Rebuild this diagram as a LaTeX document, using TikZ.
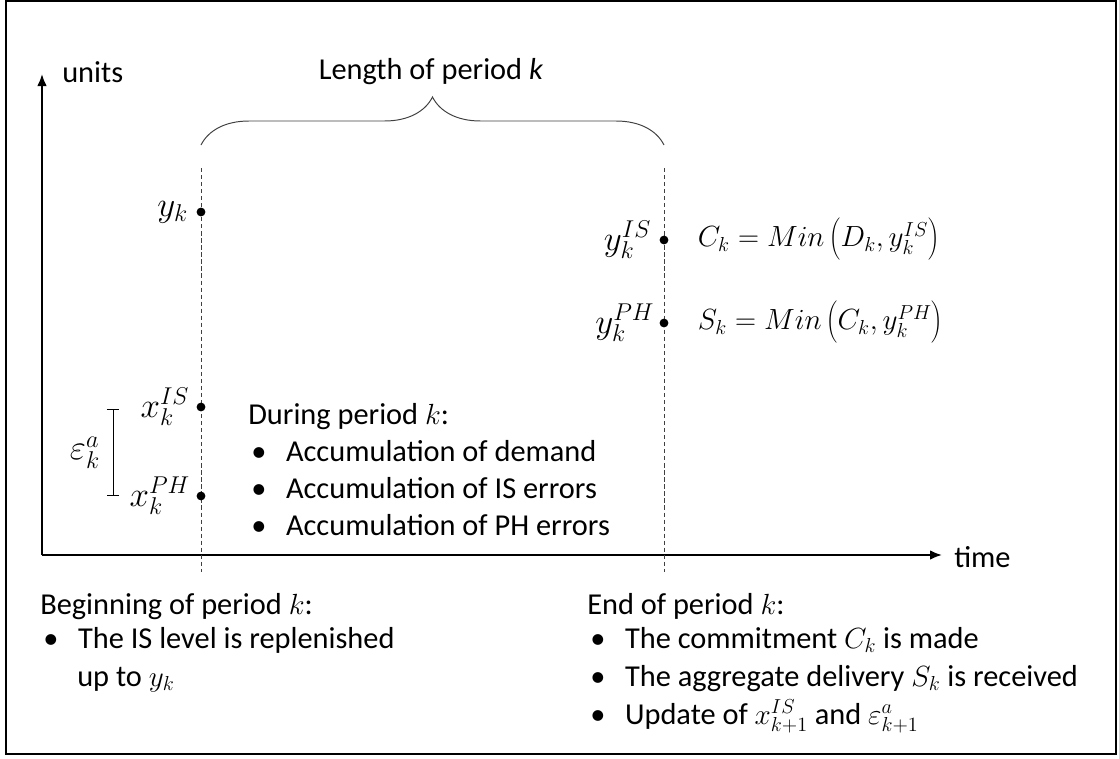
\documentclass[tikz,border=0pt]{standalone}
\usepackage{fontspec}
\setmainfont{Carlito}
\usetikzlibrary{arrows.meta,decorations.pathreplacing,positioning}
\newcommand{\bul}{\makebox[0.87cm][l]{\textbullet}}
\newcommand{\tallpar}[1]{\left(\rule[-0.5em]{0pt}{1.45em}#1\right)}

\begin{document}
\begin{tikzpicture}[x=0.025cm,y=-0.025cm,
    every node/.style={font=\fontsize{21.6}{27}\selectfont,inner sep=0},
    txt/.style={anchor=base west},
    mth/.style={font=\fontsize{23.5}{28}\selectfont},
    eqn/.style={font=\fontsize{21}{26}\selectfont},
    dot/.style={circle,fill,inner sep=0,minimum size=0.22cm},
    guide/.style={densely dashed,line width=0.6pt,black!75},
    axis/.style={line width=1.3pt,-{Latex[length=0.3cm,width=0.24cm]}}]
  \useasboundingbox (0,0) rectangle (1119,758);
  \draw[line width=1.5pt] (6,1) rectangle (1116,754);

  \coordinate (o) at (42,555);
  \coordinate (ytip) at (42,74);
  \coordinate (xtip) at (942,555);
  \draw[axis] (o) -- (ytip);
  \draw[axis] (o) -- (xtip);
  \node[anchor=west] (units) at (62,72) {units};
  \node[anchor=west] (time) at (954,557) {time};

  \foreach \nm/\px in {b/201, e/664}{%
    \coordinate (\nm top) at (\px,168);
    \coordinate (\nm bot) at (\px,572);
    \draw[guide] (\nm top) -- (\nm bot);}

  \coordinate (br0) at (201,145);
  \coordinate (br1) at (664,145);
  \draw[decorate,decoration={brace,amplitude=1.2cm},line width=0.7pt,black!75] (br0) -- (br1);
  \node (lenlbl) at (431,72) {Length of period \textit{k}};

  \foreach \nm/\px/\py in {yk/201/212, xis/201/407, xph/201/496, yis/664/240, yph/664/323}
    \node[dot] (\nm) at (\px,\py) {};
  \node[mth,left=0.2cm of yk] (yklbl) {$y_k$};
  \node[mth,left=0.17cm of xis] (xislbl) {$x_k^{IS}$};
  \node[mth,left=0.15cm of xph] (xphlbl) {$x_k^{PH}$};
  \node[mth,left=0.2cm of yis] (yislbl) {$y_k^{IS}$};
  \node[mth,left=0.12cm of yph] (yphlbl) {$y_k^{PH}$};
  \node[eqn,right=0.72cm of yis] (ceq) {$C_k = Min\tallpar{D_k, y_k^{IS}}$};
  \node[eqn,right=0.72cm of yph] (seq) {$S_k = Min\tallpar{C_k, y_k^{PH}}$};

  \coordinate (ea) at (113,409);
  \coordinate (eb) at (113,496);
  \draw[{Bar[width=0.3cm]}-{Bar[width=0.3cm]},line width=0.7pt] (ea) -- (eb);
  \path (ea) -- node[mth,left=0.32cm] (eps) {$\varepsilon_k^a$} (eb);

  \node[txt] (dur) at (248,424) {During period $k$:};
  \foreach \t [count=\i] in {Accumulation of demand, Accumulation of IS errors, Accumulation of PH errors}
    \node[txt] (dur\i) at (251,{424+37*\i}) {\bul\t};

  \node[txt] (beg) at (40,614) {Beginning of period $k$:};
  \node[txt] (beg1) at (43,648) {\bul The IS level is replenished};
  \node[txt] (beg2) at (77,686) {up to $y_k$};

  \node[txt] (endp) at (587,614) {End of period $k$:};
  \node[txt] (end1) at (590,648) {\bul The commitment $C_k$ is made};
  \node[txt] (end2) at (590,686) {\bul The aggregate delivery $S_k$ is received};
  \node[txt] (end3) at (590,724) {\bul Update of $x_{k+1}^{IS}$ and $\varepsilon_{k+1}^a$};
\end{tikzpicture}
\end{document}
